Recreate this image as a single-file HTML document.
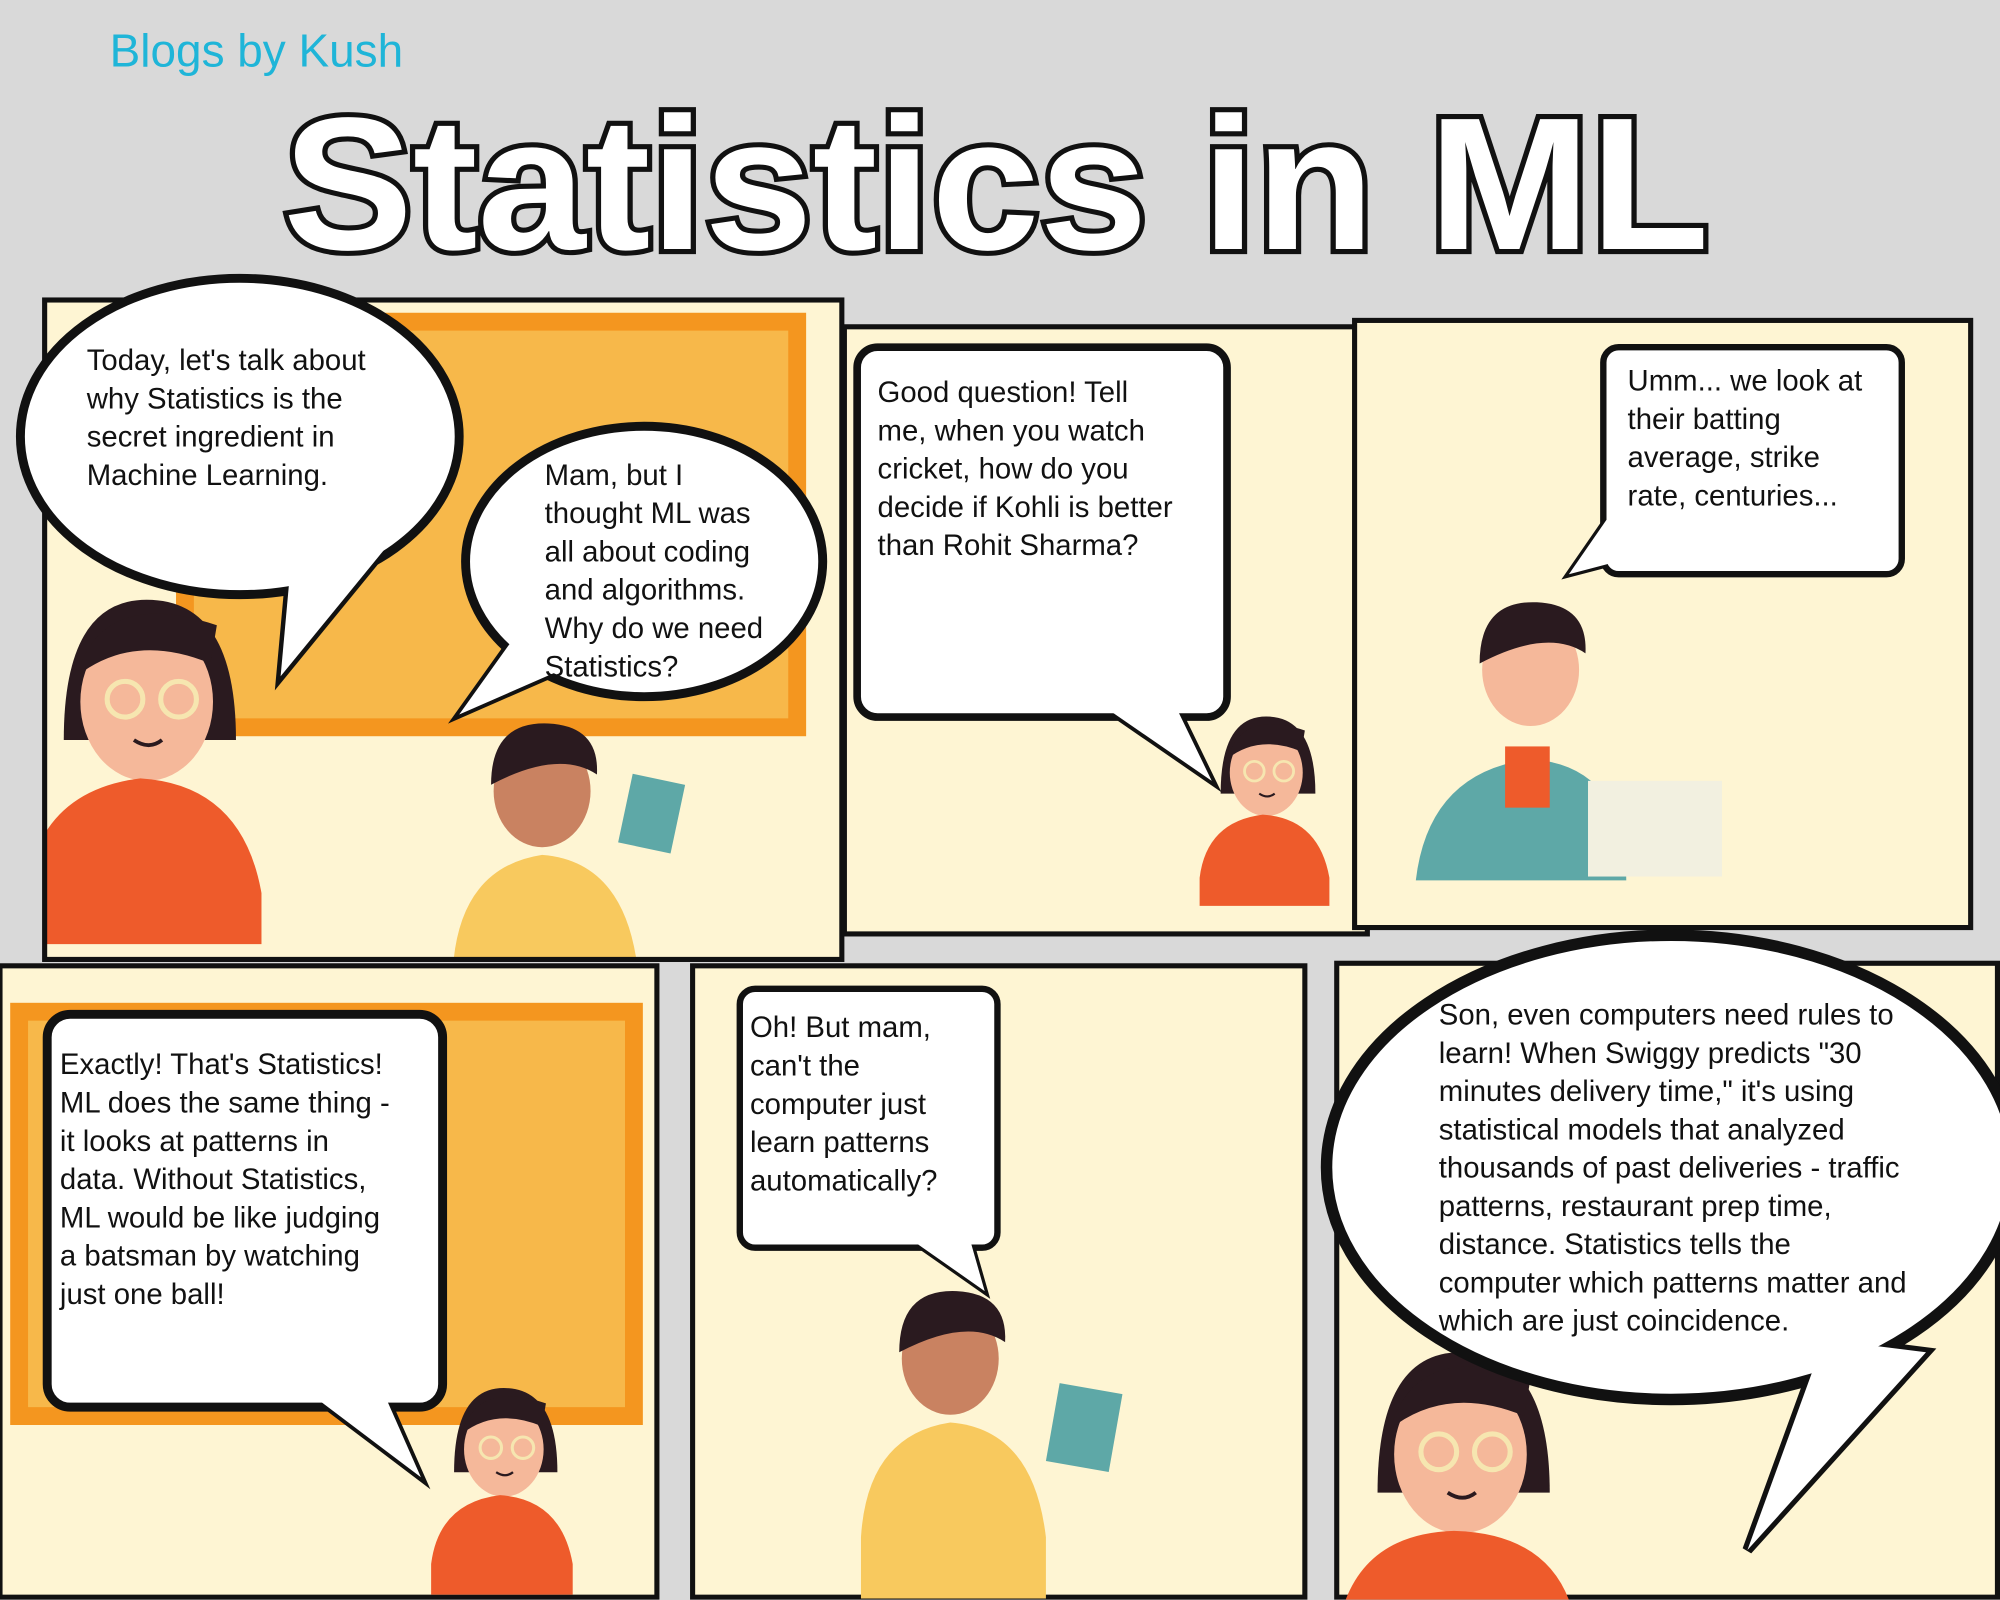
<!DOCTYPE html>
<html><head><meta charset="utf-8">
<style>
html,body{margin:0;padding:0;background:#d9d9d9;width:2000px;height:1600px;overflow:hidden;}
svg{display:block;overflow:hidden;}
.bt{font-family:"Liberation Sans",sans-serif;font-size:23px;fill:#111;}
</style></head>
<body>
<svg width="2000" height="1600" viewBox="0 0 1568 1254" xmlns="http://www.w3.org/2000/svg">
<defs>
<clipPath id="frame"><rect x="0" y="0" width="1568" height="1254"/></clipPath>
<clipPath id="p1clip"><rect x="35" y="235" width="625" height="517"/></clipPath>
<g id="girl">
  <path d="M-60,40 q0,-110 65,-110 q70,0 70,110 z" fill="#2a1a1f"/>
  <ellipse cx="5" cy="10" rx="52" ry="62" fill="#f5b89a"/>
  <path d="M-50,-10 q20,-70 110,-40 l-5,30 q-60,-25 -105,10z" fill="#2a1a1f"/>
  <circle cx="-12" cy="8" r="14" fill="none" stroke="#f6e6b0" stroke-width="4"/>
  <circle cx="30" cy="8" r="14" fill="none" stroke="#f6e6b0" stroke-width="4"/>
  <path d="M-5,40 q12,8 22,0" stroke="#2a1a1f" stroke-width="3" fill="none"/>
  <path d="M-90,160 q10,-80 90,-90 q80,5 95,90 l0,40 l-185,0z" fill="#ee5b2b"/>
</g>
<g id="boy">
  <ellipse cx="0" cy="0" rx="38" ry="44" fill="#c98261"/>
  <path d="M-40,-5 q0,-50 45,-48 q40,2 38,40 q-30,-20 -83,8z" fill="#2a1a1f"/>
  <path d="M-70,140 q5,-80 70,-90 q65,5 75,90 l0,48 l-145,0z" fill="#f8c95e"/>
</g>
</defs>
<g clip-path="url(#frame)">
<rect width="1568" height="1254" fill="#d9d9d9"/>
<text x="86" y="52" font-family="Liberation Sans,sans-serif" font-size="36" fill="#1fb5d8">Blogs by Kush</text>
<text x="222" y="195" textLength="1118" lengthAdjust="spacingAndGlyphs" font-family="Liberation Sans,sans-serif" font-weight="bold" font-size="148" fill="#fff" stroke="#111" stroke-width="8" paint-order="stroke">Statistics in ML</text>

<g>
<rect x="35" y="235" width="625" height="517" fill="#fef5d3"/>
<g clip-path="url(#p1clip)">
<rect x="145" y="252" width="480" height="318" fill="#f7b84a" stroke="#f4961f" stroke-width="14"/>
<use href="#girl" x="110" y="540"/>
<g transform="translate(425,620)"><use href="#boy"/></g>
<rect x="490" y="610" width="42" height="55" fill="#5ea8a7" transform="rotate(12 510 637)"/>
</g>
<rect x="35" y="235" width="625" height="517" fill="none" stroke="#111" stroke-width="4"/>
<path d="M230,420 L310,420 L220,530 z" fill="#fff" stroke="#111" stroke-width="7"/>
<ellipse cx="188" cy="342" rx="172" ry="124" fill="#fff" stroke="#111" stroke-width="7"/>
<path d="M230,420 L310,420 L220,530 z" fill="#fff"/>
<text class="bt"><tspan x="68" y="290">Today, let's talk about</tspan><tspan x="68" y="320">why Statistics is the</tspan><tspan x="68" y="350">secret ingredient in</tspan><tspan x="68" y="380">Machine Learning.</tspan></text>
<path d="M410,490 L360,560 L440,525 z" fill="#fff" stroke="#111" stroke-width="6"/>
<ellipse cx="505" cy="440" rx="140" ry="106" fill="#fff" stroke="#111" stroke-width="7"/>
<path d="M410,490 L360,560 L440,525 z" fill="#fff"/>
<text class="bt"><tspan x="427" y="380">Mam, but I</tspan><tspan x="427" y="410">thought ML was</tspan><tspan x="427" y="440">all about coding</tspan><tspan x="427" y="470">and algorithms.</tspan><tspan x="427" y="500">Why do we need</tspan><tspan x="427" y="530">Statistics?</tspan></text>
</g>

<g>
<rect x="662" y="256" width="410" height="476" fill="#fef5d3" stroke="#111" stroke-width="4"/>
<g transform="translate(990,600) scale(0.55)"><use href="#girl"/></g>
<path d="M860,550 L950,612 L920,550z" fill="#fff" stroke="#111" stroke-width="6"/>
<rect x="672" y="272" width="290" height="290" rx="16" fill="#fff" stroke="#111" stroke-width="6"/>
<path d="M860,550 L950,612 L920,550z" fill="#fff"/>
<text class="bt"><tspan x="688" y="315">Good question! Tell</tspan><tspan x="688" y="345">me, when you watch</tspan><tspan x="688" y="375">cricket, how do you</tspan><tspan x="688" y="405">decide if Kohli is better</tspan><tspan x="688" y="435">than Rohit Sharma?</tspan></text>
</g>

<g>
<rect x="1062" y="251" width="483" height="476" fill="#fef5d3" stroke="#111" stroke-width="4"/>
<g transform="translate(1200,525)"><ellipse cx="0" cy="0" rx="38" ry="44" fill="#f5b89a"/><path d="M-40,-5 q0,-50 45,-48 q40,2 38,40 q-30,-20 -83,8z" fill="#2a1a1f"/><path d="M-90,165 q10,-85 90,-95 q75,5 75,95z" fill="#5ea8a7"/></g>
<rect x="1245" y="612" width="105" height="75" fill="#f2f0e0"/>
<rect x="1180" y="585" width="35" height="48" fill="#ee5b2b"/>
<path d="M1268,395 L1230,450 L1268,440z" fill="#fff" stroke="#111" stroke-width="5"/>
<rect x="1257" y="272" width="234" height="178" rx="12" fill="#fff" stroke="#111" stroke-width="5"/>
<path d="M1268,395 L1230,450 L1268,440z" fill="#fff"/>
<text class="bt"><tspan x="1276" y="306">Umm... we look at</tspan><tspan x="1276" y="336">their batting</tspan><tspan x="1276" y="366">average, strike</tspan><tspan x="1276" y="396">rate, centuries...</tspan></text>
</g>

<g>
<rect x="0" y="757" width="515" height="495" fill="#fef5d3" stroke="#111" stroke-width="4"/>
<rect x="15" y="793" width="482" height="317" fill="#f7b84a" stroke="#f4961f" stroke-width="14"/>
<g transform="translate(392,1130) scale(0.6)"><use href="#girl"/></g>
<path d="M240,1090 L330,1158 L300,1090z" fill="#fff" stroke="#111" stroke-width="6"/>
<rect x="37" y="795" width="310" height="308" rx="18" fill="#fff" stroke="#111" stroke-width="7"/>
<path d="M240,1090 L330,1158 L300,1090z" fill="#fff"/>
<text class="bt"><tspan x="47" y="842">Exactly! That's Statistics!</tspan><tspan x="47" y="872">ML does the same thing -</tspan><tspan x="47" y="902">it looks at patterns in</tspan><tspan x="47" y="932">data. Without Statistics,</tspan><tspan x="47" y="962">ML would be like judging</tspan><tspan x="47" y="992">a batsman by watching</tspan><tspan x="47" y="1022">just one ball!</tspan></text>
</g>

<g>
<rect x="543" y="757" width="480" height="495" fill="#fef5d3" stroke="#111" stroke-width="4"/>
<g transform="translate(745,1065)"><use href="#boy"/></g>
<rect x="825" y="1088" width="50" height="62" fill="#5ea8a7" transform="rotate(10 850 1119)"/>
<path d="M712,970 L772,1012 L760,970z" fill="#fff" stroke="#111" stroke-width="5"/>
<rect x="580" y="775" width="202" height="203" rx="12" fill="#fff" stroke="#111" stroke-width="5"/>
<path d="M712,970 L772,1012 L760,970z" fill="#fff"/>
<text class="bt"><tspan x="588" y="813">Oh! But mam,</tspan><tspan x="588" y="843">can't the</tspan><tspan x="588" y="873">computer just</tspan><tspan x="588" y="903">learn patterns</tspan><tspan x="588" y="933">automatically?</tspan></text>
</g>

<g>
<rect x="1048" y="755" width="518" height="497" fill="#fef5d3" stroke="#111" stroke-width="4"/>
<g transform="translate(1140,1130)">
  <path d="M-60,40 q0,-110 65,-110 q70,0 70,110 z" fill="#2a1a1f"/>
  <ellipse cx="5" cy="10" rx="52" ry="62" fill="#f5b89a"/>
  <path d="M-50,-10 q20,-70 110,-40 l-5,30 q-60,-25 -105,10z" fill="#2a1a1f"/>
  <circle cx="-12" cy="8" r="14" fill="none" stroke="#f6e6b0" stroke-width="4"/>
  <circle cx="30" cy="8" r="14" fill="none" stroke="#f6e6b0" stroke-width="4"/>
  <path d="M-5,40 q12,8 22,0" stroke="#2a1a1f" stroke-width="3" fill="none"/>
  <path d="M-85,124 q20,-52 85,-54 q70,2 90,54z" fill="#ee5b2b"/>
</g>
<path d="M1430,1050 L1370,1215 L1510,1060z" fill="#fff" stroke="#111" stroke-width="8"/>
<ellipse cx="1310" cy="915" rx="270" ry="182" fill="#fff" stroke="#111" stroke-width="9"/>
<path d="M1430,1050 L1370,1215 L1510,1060z" fill="#fff"/>
<text class="bt"><tspan x="1128" y="803">Son, even computers need rules to</tspan><tspan x="1128" y="833">learn! When Swiggy predicts "30</tspan><tspan x="1128" y="863">minutes delivery time," it's using</tspan><tspan x="1128" y="893">statistical models that analyzed</tspan><tspan x="1128" y="923">thousands of past deliveries - traffic</tspan><tspan x="1128" y="953">patterns, restaurant prep time,</tspan><tspan x="1128" y="983">distance. Statistics tells the</tspan><tspan x="1128" y="1013">computer which patterns matter and</tspan><tspan x="1128" y="1043">which are just coincidence.</tspan></text>
</g>
</g>
</svg>
</body></html>
